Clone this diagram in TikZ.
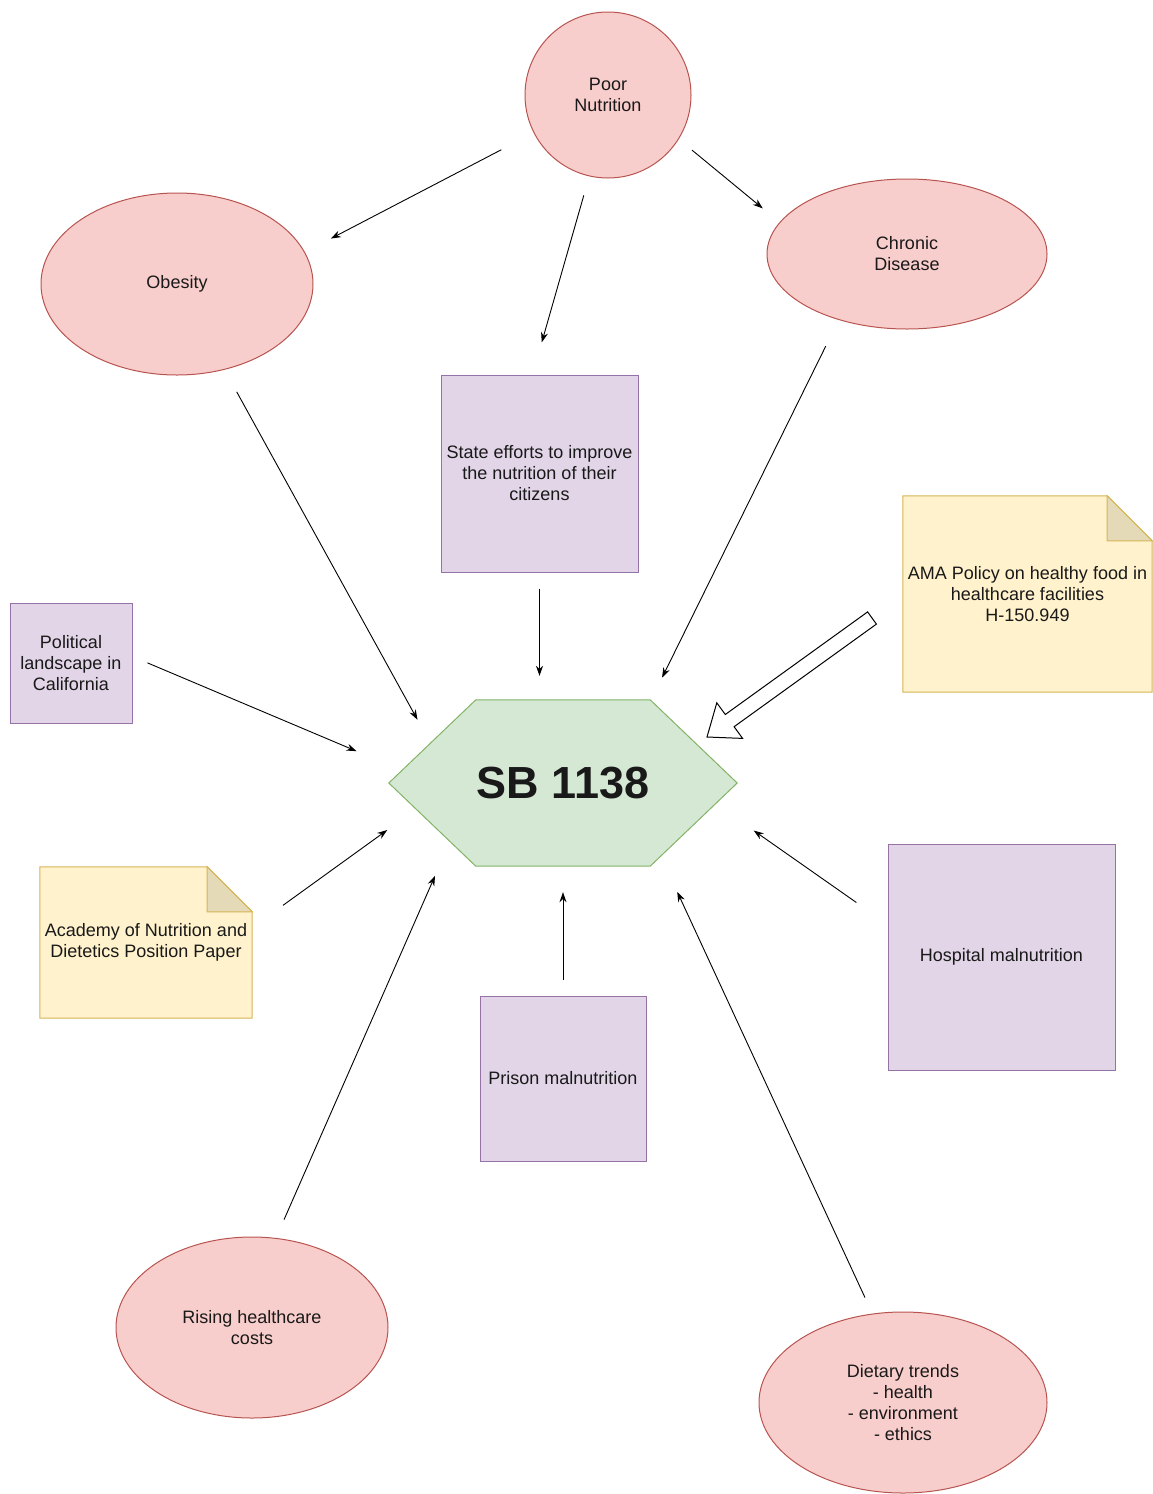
\documentclass[tikz,border=0pt]{standalone}
\usepackage{fontspec}
\setmainfont{Liberation Sans}
\usetikzlibrary{shapes.geometric,arrows.meta,backgrounds}

\definecolor{pinkfill}{HTML}{F8CECC}
\definecolor{pinkline}{HTML}{B85450}
\definecolor{purpfill}{HTML}{E1D5E7}
\definecolor{purpline}{HTML}{9673A6}
\definecolor{notefill}{HTML}{FFF2CC}
\definecolor{noteline}{HTML}{D6B656}
\definecolor{billfill}{HTML}{D5E8D4}
\definecolor{billline}{HTML}{82B366}

\tikzset{
  every node/.style={font=\fontsize{18}{21}\selectfont, align=center, text=black!90},
  issue/.style={draw=pinkline, fill=pinkfill, line width=1pt, inner sep=0pt},
  factor/.style={rectangle, draw=purpline, fill=purpfill, line width=1pt, inner sep=2pt},
  paper/.style={rectangle, inner sep=0pt},
  arr/.style={-{Stealth[length=10pt,width=7pt]}, line width=0.9pt},
}

\begin{document}
\begin{tikzpicture}[x=1pt,y=-1pt]
  \useasboundingbox (0,0) rectangle (1153,1494);

  % causes and context
  \node[issue, circle, minimum size=166pt] (pn) at (608,95) {Poor\\Nutrition};
  \node[issue, ellipse, minimum width=272pt, minimum height=182pt] (ob) at (177,284) {Obesity};
  \node[issue, ellipse, minimum width=280pt, minimum height=150pt] (cd) at (907,254) {Chronic\\Disease};
  \node[factor, minimum width=197pt, minimum height=197pt] (se) at (539.5,473.5) {State efforts to improve\\the nutrition of their\\citizens};
  \node[paper, minimum width=249pt, minimum height=196pt] (ama) at (1027.5,594) {AMA Policy on healthy food in\\healthcare facilities\\H-150.949};
  \node[factor, minimum width=122pt, minimum height=120pt] (pl) at (71,663) {Political\\landscape in\\California};
  \node[inner sep=0pt, minimum width=174pt, minimum height=166pt, font=\fontsize{45}{50}\selectfont\bfseries] (sb) at (563,783) {SB 1138};
  \node[paper, minimum width=212pt, minimum height=151pt] (ac) at (146,942.5) {Academy of Nutrition and\\Dietetics Position Paper};
  \node[factor, minimum width=227pt, minimum height=226pt] (ho) at (1001.5,957) {Hospital malnutrition};
  \node[factor, minimum width=166pt, minimum height=165pt] (pr) at (563,1078.5) {Prison malnutrition};
  \node[issue, ellipse, minimum width=272pt, minimum height=181pt] (rc) at (252,1327.5) {Rising healthcare\\costs};
  \node[issue, ellipse, minimum width=288pt, minimum height=181pt] (dt) at (903,1402.5) {Dietary trends\\- health\\- environment\\- ethics};

  \begin{scope}[on background layer]
    % hexagon round the bill
    \draw[billline, fill=billfill, line width=1pt] (sb.north west) -- (sb.north east) -- ([xshift=87pt]sb.east)
      -- (sb.south east) -- (sb.south west) -- ([xshift=-87pt]sb.west) -- cycle;
    % notes with folded corner
    \foreach \n in {ama,ac} {
      \draw[noteline, fill=notefill, line width=1pt] (\n.south west) -- (\n.north west) -- ([xshift=-45pt]\n.north east)
        -- ([yshift=-45pt]\n.north east) -- (\n.south east) -- cycle;
      \draw[noteline, fill=notefill!90!black, line width=1pt] ([xshift=-45pt]\n.north east)
        -- ([xshift=-45pt,yshift=-45pt]\n.north east) -- ([yshift=-45pt]\n.north east) -- cycle;
    }
  \end{scope}

  \draw[arr, shorten <=36.4pt, shorten >=29.3pt] (pn.207.5) -- (ob.14.5);
  \draw[arr, shorten <=19.7pt, shorten >=33.4pt] (pn.257.9) -- (se.94.6);
  \draw[arr, shorten <=17.1pt, shorten >=21.7pt] (pn.328.8) -- (cd.166.3);
  \draw[arr, shorten <=25.2pt, shorten >=120.8pt] (ob.299.9) -- (sb.206.3);
  \draw[arr, shorten <=16pt, shorten >=24pt] (se.south) -- (se.south |- sb.north);
  \draw[arr, shorten <=29.2pt, shorten >=26.8pt] (cd.224.6) -- (sb.43.6);
  \draw[arr, shorten <=16.3pt, shorten >=129.5pt] (pl.6.9) -- (sb.192.9);
  \draw[arr, shorten <=38pt, shorten >=109.2pt] (ac.8.85) -- (sb.169.4);
  \draw[arr, shorten <=20pt, shorten >=101.4pt] (rc.75.6) -- (sb.180);
  \draw[arr, shorten <=16pt, shorten >=26pt] (pr.north) -- (sb.south);
  \draw[arr, shorten <=38pt, shorten >=126.4pt] (ho.164.7) -- (sb.16.8);
  \draw[arr, shorten <=17.7pt, shorten >=64.4pt] (dt.109.1) -- (sb.330.4);

  % hollow arrow from the AMA note
  \draw[line width=1pt, fill=white] (867.6,611.9) -- (725.3,714.5) -- (716.8,702.8) -- (707,737)
    -- (742.6,738.4) -- (734.1,726.7) -- (876.4,624.1) -- cycle;
\end{tikzpicture}
\end{document}
